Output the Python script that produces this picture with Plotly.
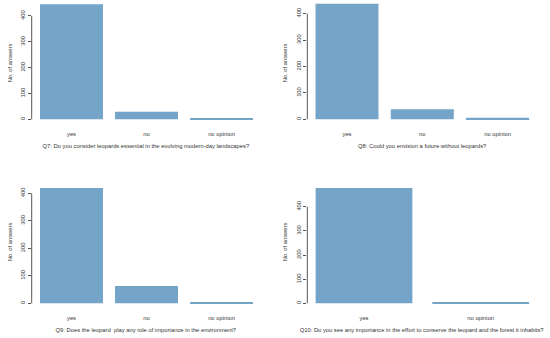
import plotly.graph_objects as go

W, H = 550, 338

# ---- data ----
cats_q7 = ["yes", "no", "no opinion"]
vals_q7 = [445, 29, 5]
cats_q8 = ["yes", "no", "no opinion"]
vals_q8 = [437, 38, 6]
cats_q9 = ["yes", "no", "no opinion"]
vals_q9 = [419, 63, 2]
cats_q10 = ["yes", "no opinion"]
vals_q10 = [477, 3]
titles = [
    "Q7: Do you consider leopards essential in the evolving modern-day landscapes?",
    "Q8: Could you envision a future without leopards?",
    "Q9: Does the leopard  play any role of importance in the environment?",
    "Q10: Do you see any importance in the effort to conserve the leopard and the forest it inhabits?",
]
ytitle = "No. of answers"
yticks = [0, 100, 200, 300, 400]

BAR = "#74A4C8"
TXT = "#333333"
AX = "#555555"
FONT = "Liberation Sans, Arial, sans-serif"
FS = 5.8

panels = [
    dict(cats=cats_q7, vals=vals_q7, axx=31.7, c0=71.5, sp=75.0, bw=63.0, xr=260,
         zero=119.3, ppu=0.2583, top=1.0, bot=125.0),
    dict(cats=cats_q8, vals=vals_q8, axx=307.3, c0=347.0, sp=75.3, bw=63.0, xr=537,
         zero=119.3, ppu=0.2642, top=1.0, bot=125.0),
    dict(cats=cats_q9, vals=vals_q9, axx=31.7, c0=71.5, sp=75.0, bw=63.0, xr=260,
         zero=303.3, ppu=0.275, top=175.0, bot=309.0),
    dict(cats=cats_q10, vals=vals_q10, axx=307.3, c0=364.0, sp=116.7, bw=96.7, xr=536,
         zero=303.3, ppu=0.2415, top=175.0, bot=309.0),
]

fig = go.Figure()
layout = dict(
    width=W, height=H, margin=dict(l=0, r=0, t=0, b=0, autoexpand=False),
    paper_bgcolor="white", plot_bgcolor="white", showlegend=False,
    font=dict(family=FONT, size=FS, color=TXT),
    shapes=[],
)

for i, p in enumerate(panels, start=1):
    xs = "" if i == 1 else str(i)
    xname, yname = "x" + xs, "y" + xs
    n = len(p["cats"])
    fig.add_trace(go.Bar(
        x=list(range(n)), y=p["vals"], xaxis=xname, yaxis=yname,
        width=p["bw"] / p["sp"], marker=dict(color=BAR, line=dict(width=0)),
        hoverinfo="x+y",
    ))
    x0 = (p["axx"] - p["c0"]) / p["sp"]
    x1 = (p["xr"] - p["c0"]) / p["sp"]
    y0 = (p["zero"] - p["bot"]) / p["ppu"]
    y1 = (p["zero"] - p["top"]) / p["ppu"]
    layout["xaxis" + xs] = dict(
        domain=[p["axx"] / W, p["xr"] / W], range=[x0, x1],
        tickvals=list(range(n)), ticktext=p["cats"], showgrid=False,
        zeroline=False, showline=False, ticks="", anchor=yname,
        tickfont=dict(size=FS, color=TXT), ticklabelstandoff=4,
        title=dict(text=titles[i - 1], font=dict(size=FS, color=TXT), standoff=8),
        fixedrange=True, automargin=False,
    )
    layout["yaxis" + xs] = dict(
        domain=[1 - p["bot"] / H, 1 - p["top"] / H], range=[y0, y1],
        tickvals=yticks, ticktext=[str(v) for v in yticks], tickangle=-90,
        showgrid=False, zeroline=False, showline=False, ticks="outside",
        ticklen=3, tickcolor=AX, tickwidth=1, anchor=xname,
        tickfont=dict(size=FS, color=TXT),
        title=dict(text=ytitle, font=dict(size=FS, color=TXT), standoff=7),
        fixedrange=True, automargin=False,
    )
    layout["shapes"].append(dict(
        type="line", xref=xname + " domain", yref=yname,
        x0=0, x1=0, y0=yticks[0], y1=yticks[-1],
        line=dict(color=AX, width=1),
    ))

fig.update_layout(**layout)
fig.write_html(
    "out.html",
    config={"displayModeBar": False},
    post_script="document.body.style.margin='0';document.body.style.overflow='hidden';",
)
